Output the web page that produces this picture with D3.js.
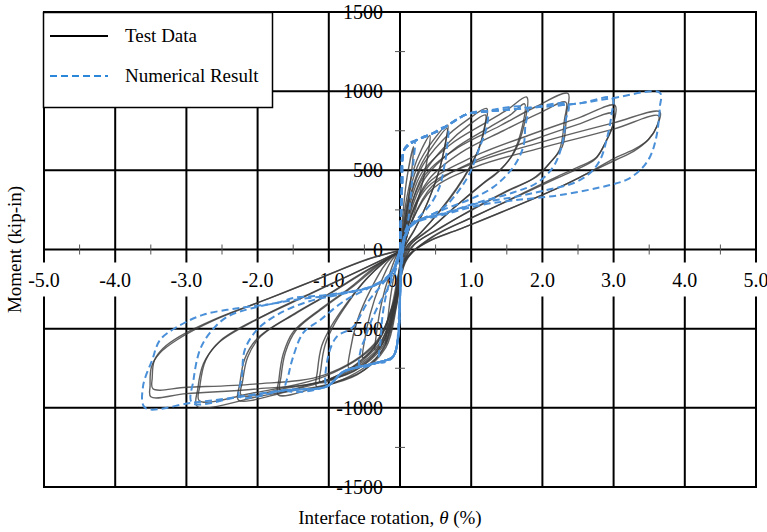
<!DOCTYPE html>
<html>
<head>
<meta charset="utf-8">
<script src="https://cdn.jsdelivr.net/npm/d3@7"></script>
<style>
  body { margin: 0; background: #fff; }
  svg text { font-family: "Liberation Serif", "Times New Roman", serif; }
</style>
</head>
<body>
<div id="wrapper"></div>
<script>
// tick values / labels
const xTicks = [-5, -4, -3, -2, -1, 0, 1, 2, 3, 4, 5]
const xTickLabels = ["-5.0", "-4.0", "-3.0", "-2.0", "-1.0", "0.0", "1.0", "2.0", "3.0", "4.0", "5.0"]
const xMinor = [-4.5, -3.5, -2.5, -1.5, -0.5, 0.5, 1.5, 2.5, 3.5, 4.5]
const yTicks = [-1500, -1000, -500, 0, 500, 1000, 1500]
const yTickLabels = ["-1500", "-1000", "-500", "0", "500", "1000", "1500"]
const yMinor = [-1250, -750, -250, 250, 750, 1250]

// test data, one array per cycle: [rotation %, moment kip-in]
const testA = [[0,0],[0.04,220],[0.1,460],[0.19,650],[0.17,520],[0.12,320],[0.06,130],[0.01,-60],[-0.06,-280],[-0.13,-470],[-0.2,-600],[-0.18,-480],[-0.13,-290],[-0.06,-110],[0,0]]
const testB = [[0.01,0],[0.07,260],[0.18,490],[0.3,630],[0.42,720],[0.4,620],[0.33,450],[0.22,260],[0.1,90],[0.02,-60],[-0.06,-280],[-0.16,-470],[-0.27,-590],[-0.35,-635],[-0.33,-530],[-0.26,-340],[-0.15,-160],[-0.05,-40],[0.01,0]]
const testC = [[0.02,0],[0.09,270],[0.24,520],[0.45,680],[0.67,785],[0.64,680],[0.55,500],[0.4,310],[0.22,140],[0.07,20],[-0.01,-140],[-0.1,-360],[-0.25,-540],[-0.4,-640],[-0.52,-685],[-0.5,-580],[-0.42,-410],[-0.28,-220],[-0.12,-70],[0.02,0]]
const testD = [[0.02,0],[0.1,260],[0.28,520],[0.5,680],[0.66,765],[0.63,650],[0.53,470],[0.38,290],[0.2,120],[0.05,0],[-0.03,-170],[-0.14,-400],[-0.32,-590],[-0.55,-700],[-0.72,-748],[-0.7,-640],[-0.6,-450],[-0.42,-260],[-0.2,-90],[0.02,0]]
const testE = [[0.03,0],[0.1,240],[0.28,500],[0.6,690],[0.95,820],[1.22,890],[1.2,790],[1.12,650],[0.98,520],[0.8,390],[0.55,240],[0.3,110],[0.1,20],[0.02,-110],[-0.06,-360],[-0.22,-610],[-0.5,-760],[-0.85,-830],[-1.17,-867],[-1.16,-770],[-1.1,-610],[-0.96,-480],[-0.75,-340],[-0.5,-200],[-0.25,-90],[0.03,0]]
const testE2 = [[0.03,0],[0.12,220],[0.32,470],[0.65,660],[0.98,790],[1.2,850],[1.18,760],[1.1,630],[0.96,500],[0.78,370],[0.52,220],[0.28,100],[0.08,10],[0,-120],[-0.08,-370],[-0.25,-600],[-0.55,-740],[-0.88,-810],[-1.12,-840],[-1.11,-750],[-1.05,-600],[-0.92,-470],[-0.72,-330],[-0.48,-190],[-0.22,-80],[0.03,0]]
const testF = [[0.04,0],[0.11,230],[0.3,480],[0.7,660],[1.2,800],[1.5,880],[1.78,963],[1.75,800],[1.6,610],[1.4,500],[1.2,430],[0.8,280],[0.45,140],[0.15,30],[0.03,-110],[-0.05,-360],[-0.2,-620],[-0.6,-790],[-1.2,-875],[-1.71,-918],[-1.7,-820],[-1.64,-660],[-1.5,-520],[-1.1,-370],[-0.7,-240],[-0.35,-110],[0.04,0]]
const testF2 = [[0.04,0],[0.13,210],[0.35,450],[0.75,630],[1.25,770],[1.55,850],[1.75,920],[1.72,780],[1.58,600],[1.38,490],[1.15,410],[0.75,260],[0.4,120],[0.12,20],[0.02,-120],[-0.07,-370],[-0.24,-610],[-0.65,-770],[-1.25,-850],[-1.68,-890],[-1.67,-800],[-1.61,-650],[-1.46,-510],[-1.05,-360],[-0.65,-230],[-0.3,-100],[0.04,0]]
const testG = [[0.05,0],[0.12,220],[0.35,470],[0.8,640],[1.4,780],[1.9,900],[2.36,985],[2.34,860],[2.28,650],[2.1,545],[1.92,460],[1.5,370],[1.0,250],[0.55,130],[0.2,30],[0.04,-100],[-0.05,-350],[-0.25,-640],[-0.8,-820],[-1.6,-900],[-2.27,-950],[-2.25,-850],[-2.18,-690],[-2.0,-560],[-1.5,-410],[-1.0,-280],[-0.5,-140],[0.05,0]]
const testG2 = [[0.05,0],[0.14,200],[0.4,440],[0.85,610],[1.45,750],[1.95,860],[2.33,930],[2.31,820],[2.24,630],[2.06,525],[1.86,445],[1.45,355],[0.95,235],[0.5,120],[0.17,20],[0.03,-110],[-0.07,-360],[-0.3,-630],[-0.85,-800],[-1.65,-880],[-2.23,-920],[-2.21,-830],[-2.14,-680],[-1.96,-550],[-1.45,-400],[-0.95,-270],[-0.45,-130],[0.05,0]]
const testH = [[0.05,0],[0.15,200],[0.4,420],[1.0,580],[1.8,720],[2.5,830],[3.02,910],[3.0,800],[2.9,690],[2.76,583],[2.5,520],[2.25,470],[1.7,350],[1.1,220],[0.5,90],[0.1,-60],[-0.05,-300],[-0.3,-620],[-1.0,-820],[-2.0,-930],[-2.85,-990],[-2.84,-880],[-2.76,-720],[-2.55,-590],[-2.0,-440],[-1.3,-290],[-0.6,-140],[0.05,0]]
const testH2 = [[0.05,0],[0.17,180],[0.45,400],[1.05,560],[1.85,690],[2.5,790],[3.0,860],[2.98,770],[2.88,670],[2.74,570],[2.45,500],[2.2,450],[1.65,335],[1.05,210],[0.45,80],[0.08,-70],[-0.07,-310],[-0.35,-600],[-1.05,-800],[-2.05,-905],[-2.82,-955],[-2.81,-860],[-2.73,-700],[-2.52,-575],[-1.95,-425],[-1.25,-275],[-0.55,-130],[0.05,0]]
const testI = [[0.05,0],[0.15,200],[0.4,400],[1.0,540],[2.0,680],[3.0,800],[3.65,870],[3.62,790],[3.5,700],[3.3,635],[3.05,585],[2.71,500],[2.25,395],[1.5,250],[0.9,140],[0.4,50],[0.1,-50],[-0.05,-300],[-0.3,-600],[-1.0,-820],[-2.0,-880],[-3.0,-910],[-3.5,-930],[-3.51,-860],[-3.49,-740],[-3.37,-653],[-3.13,-570],[-2.6,-445],[-1.9,-320],[-1.2,-195],[-0.5,-70],[0.05,0]]
const testI2 = [[0.05,0],[0.17,180],[0.45,380],[1.05,520],[2.05,650],[3.0,760],[3.63,845],[3.6,770],[3.48,690],[3.28,620],[3.05,570],[2.68,490],[2.2,385],[1.45,240],[0.85,130],[0.35,40],[0.08,-60],[-0.07,-310],[-0.35,-590],[-1.05,-790],[-2.05,-850],[-3.0,-870],[-3.47,-880],[-3.48,-810],[-3.45,-700],[-3.33,-625],[-3.1,-550],[-2.55,-430],[-1.85,-310],[-1.15,-185],[-0.45,-60],[0.05,0]]

// numerical result, one array per cycle
const num1 = [[0,0],[0.02,350],[0.05,620],[0.1,660],[0.2,685],[0.19,560],[0.16,380],[0.12,200],[0.06,60],[0.02,-150],[-0.02,-450],[-0.05,-620],[-0.12,-690],[-0.28,-712],[-0.27,-560],[-0.24,-400],[-0.18,-260],[-0.08,-120],[0,0]]
const num2 = [[0,0],[0.02,350],[0.05,620],[0.18,678],[0.4,720],[0.66,775],[0.66,640],[0.62,520],[0.56,400],[0.45,300],[0.3,220],[0.15,150],[0.05,30],[0.01,-200],[-0.03,-570],[-0.1,-677],[-0.3,-712],[-0.56,-742],[-0.55,-630],[-0.49,-560],[-0.42,-470],[-0.3,-350],[-0.15,-230],[-0.04,-100],[0,0]]
const num3 = [[0,0],[0.03,400],[0.06,630],[0.18,678],[0.56,754],[0.94,855],[1.22,868],[1.21,760],[1.12,647],[0.98,483],[0.8,356],[0.6,260],[0.3,190],[0.12,150],[0.04,0],[0,-300],[-0.03,-570],[-0.1,-677],[-0.28,-710],[-0.56,-740],[-0.8,-773],[-1.03,-862],[-1.01,-677],[-0.89,-552],[-0.66,-489],[-0.45,-330],[-0.25,-220],[-0.08,-120],[0,0]]
const num4 = [[0,0],[0.03,400],[0.06,630],[0.18,678],[0.56,754],[0.94,855],[1.12,867],[1.78,893],[1.76,780],[1.73,647],[1.59,520],[1.31,394],[1.0,320],[0.6,250],[0.25,180],[0.1,140],[0.03,0],[0,-300],[-0.03,-570],[-0.1,-677],[-0.28,-710],[-0.56,-740],[-0.8,-773],[-1.03,-865],[-1.6,-886],[-1.56,-780],[-1.5,-677],[-1.36,-527],[-1.12,-445],[-0.8,-330],[-0.45,-245],[-0.2,-180],[-0.05,-100],[0,0]]
const num5 = [[0,0],[0.03,400],[0.06,630],[0.18,678],[0.56,754],[0.94,855],[1.12,867],[1.78,893],[2.36,915],[2.33,820],[2.27,650],[2.15,520],[1.92,420],[1.59,360],[1.12,300],[0.66,235],[0.19,167],[0.05,60],[0,-300],[-0.03,-570],[-0.1,-677],[-0.28,-710],[-0.56,-740],[-0.8,-773],[-1.03,-865],[-1.6,-888],[-2.25,-930],[-2.22,-804],[-2.18,-634],[-2.01,-508],[-1.73,-413],[-1.3,-330],[-0.8,-280],[-0.42,-236],[-0.15,-170],[0,0]]
const num6 = [[0,0],[0.03,400],[0.06,630],[0.18,678],[0.56,754],[0.94,855],[1.12,867],[1.78,893],[2.53,924],[2.98,956],[2.97,850],[2.9,690],[2.81,565],[2.67,483],[2.44,420],[2.0,370],[1.59,330],[1.12,295],[0.66,232],[0.19,167],[0.05,60],[0,-300],[-0.03,-570],[-0.1,-677],[-0.28,-710],[-0.56,-740],[-0.8,-773],[-1.03,-865],[-1.6,-888],[-2.25,-930],[-2.92,-968],[-2.9,-823],[-2.81,-634],[-2.67,-527],[-2.43,-426],[-2.01,-363],[-1.5,-320],[-1.0,-290],[-0.42,-238],[-0.15,-170],[0,0]]
const num7 = [[0,0],[0.03,400],[0.06,630],[0.18,678],[0.56,754],[0.94,855],[1.12,867],[1.78,893],[2.53,924],[2.98,956],[3.65,990],[3.65,900],[3.6,710],[3.51,584],[3.37,500],[3.18,440],[2.95,407],[2.25,344],[1.59,310],[1.12,280],[0.66,225],[0.19,160],[0.05,50],[0,-300],[-0.03,-570],[-0.1,-677],[-0.28,-710],[-0.56,-740],[-0.8,-773],[-1.03,-865],[-1.6,-888],[-2.25,-930],[-2.92,-968],[-3.58,-1000],[-3.61,-867],[-3.48,-697],[-3.37,-571],[-3.13,-489],[-2.77,-413],[-2.25,-369],[-1.73,-338],[-1.5,-306],[-1.03,-287],[-0.42,-236],[-0.15,-170],[0,0]]

const testCycles = [testA, testB, testC, testD, testE, testE2, testF, testF2, testG, testG2, testH, testH2, testI, testI2]
const numCycles = [num1, num2, num3, num4, num5, num6, num7]

const legendItems = ["Test Data", "Numerical Result"]

function drawChart() {
  const dimensions = {
    width: 767,
    height: 532,
    margin: { top: 12, right: 11, bottom: 45, left: 44 },
  }
  dimensions.boundedWidth = dimensions.width - dimensions.margin.left - dimensions.margin.right
  dimensions.boundedHeight = dimensions.height - dimensions.margin.top - dimensions.margin.bottom

  const svg = d3.select("#wrapper")
    .append("svg")
    .attr("width", dimensions.width)
    .attr("height", dimensions.height)

  const xScale = d3.scaleLinear()
    .domain([-5, 5])
    .range([dimensions.margin.left, dimensions.margin.left + dimensions.boundedWidth])

  const yScale = d3.scaleLinear()
    .domain([-1500, 1500])
    .range([dimensions.margin.top + dimensions.boundedHeight, dimensions.margin.top])

  const x0 = xScale(0)
  const y0 = yScale(0)

  // grid
  const grid = svg.append("g")
  grid.selectAll(".vgrid")
    .data(xTicks.filter(d => d !== 0))
    .join("line")
    .attr("x1", d => xScale(d)).attr("x2", d => xScale(d))
    .attr("y1", yScale(1500)).attr("y2", yScale(-1500))
    .attr("stroke", "#000").attr("stroke-width", 2)
  grid.selectAll(".hgrid")
    .data(yTicks.filter(d => d !== 0))
    .join("line")
    .attr("x1", xScale(-5) - 1).attr("x2", xScale(5) + 1)
    .attr("y1", d => yScale(d)).attr("y2", d => yScale(d))
    .attr("stroke", "#000").attr("stroke-width", 2)

  // axes through origin
  grid.append("line")
    .attr("x1", xScale(-5)).attr("x2", xScale(5))
    .attr("y1", y0).attr("y2", y0)
    .attr("stroke", "#000").attr("stroke-width", 2)
  grid.append("line")
    .attr("x1", x0).attr("x2", x0)
    .attr("y1", yScale(1500)).attr("y2", yScale(-1500))
    .attr("stroke", "#000").attr("stroke-width", 2)

  grid.selectAll(".xminor")
    .data(xMinor)
    .join("line")
    .attr("x1", d => xScale(d)).attr("x2", d => xScale(d))
    .attr("y1", y0 - 5).attr("y2", y0 + 5)
    .attr("stroke", "#555").attr("stroke-width", 1)
  grid.selectAll(".yminor")
    .data(yMinor)
    .join("line")
    .attr("x1", x0 - 5).attr("x2", x0 + 5)
    .attr("y1", d => yScale(d)).attr("y2", d => yScale(d))
    .attr("stroke", "#555").attr("stroke-width", 1)

  // x tick labels with white backing
  const xLab = svg.append("g")
  xLab.selectAll("rect")
    .data(xTicks)
    .join("rect")
    .attr("x", d => xScale(d) - 20)
    .attr("y", y0 + 13)
    .attr("width", 40)
    .attr("height", 34)
    .attr("fill", "#fff")
  xLab.selectAll("text")
    .data(xTicks)
    .join("text")
    .attr("x", d => xScale(d))
    .attr("y", y0 + 37)
    .attr("text-anchor", "middle")
    .attr("font-size", 20)
    .attr("fill", "#000")
    .text((d, i) => xTickLabels[i])

  svg.append("g").selectAll("text")
    .data(yTicks)
    .join("text")
    .attr("x", x0 - 17)
    .attr("y", d => yScale(d) + 7)
    .attr("text-anchor", "end")
    .attr("font-size", 20)
    .attr("fill", "#000")
    .text((d, i) => yTickLabels[i])

  // data
  const lineGen = d3.line()
    .x(d => xScale(d[0]))
    .y(d => yScale(d[1]))
    .curve(d3.curveCatmullRom.alpha(0.5))

  svg.append("clipPath").attr("id", "clip")
    .append("rect")
    .attr("x", xScale(-5)).attr("y", yScale(1500))
    .attr("width", dimensions.boundedWidth).attr("height", dimensions.boundedHeight)

  const dataG = svg.append("g").attr("clip-path", "url(#clip)")
  dataG.selectAll(".test")
    .data(testCycles)
    .join("path")
    .attr("d", lineGen)
    .attr("fill", "none")
    .attr("stroke", "#3a3a3a")
    .attr("stroke-opacity", 0.8)
    .attr("stroke-width", 1.4)

  dataG.selectAll(".num")
    .data(numCycles)
    .join("path")
    .attr("d", lineGen)
    .attr("fill", "none")
    .attr("stroke", "#4a90d9")
    .attr("stroke-width", 2)
    .attr("stroke-dasharray", "7,4")

  // legend
  const legend = svg.append("g")
  legend.append("rect")
    .attr("x", 43.5).attr("y", 12.5)
    .attr("width", 229).attr("height", 95)
    .attr("fill", "#fff").attr("stroke", "#000").attr("stroke-width", 1.5)
  legend.append("line")
    .attr("x1", 50).attr("x2", 108).attr("y1", 36).attr("y2", 36)
    .attr("stroke", "#000").attr("stroke-width", 2)
  legend.append("line")
    .attr("x1", 50).attr("x2", 108).attr("y1", 76).attr("y2", 76)
    .attr("stroke", "#2a86d8").attr("stroke-width", 2).attr("stroke-dasharray", "7,4")
  legend.selectAll("text")
    .data(legendItems)
    .join("text")
    .attr("x", 125)
    .attr("y", (d, i) => 42 + i * 40)
    .attr("font-size", 19)
    .attr("fill", "#000")
    .text(d => d)

  // axis titles
  svg.append("text")
    .attr("transform", `translate(21, ${y0}) rotate(-90)`)
    .attr("text-anchor", "middle")
    .attr("font-size", 19)
    .text("Moment (kip-in)")

  const xt = svg.append("text")
    .attr("x", 390)
    .attr("y", 524)
    .attr("text-anchor", "middle")
    .attr("font-size", 19)
  xt.append("tspan").text("Interface rotation, ")
  xt.append("tspan").attr("font-style", "italic").text("θ")
  xt.append("tspan").text(" (%)")
}

drawChart()
</script>
</body>
</html>
